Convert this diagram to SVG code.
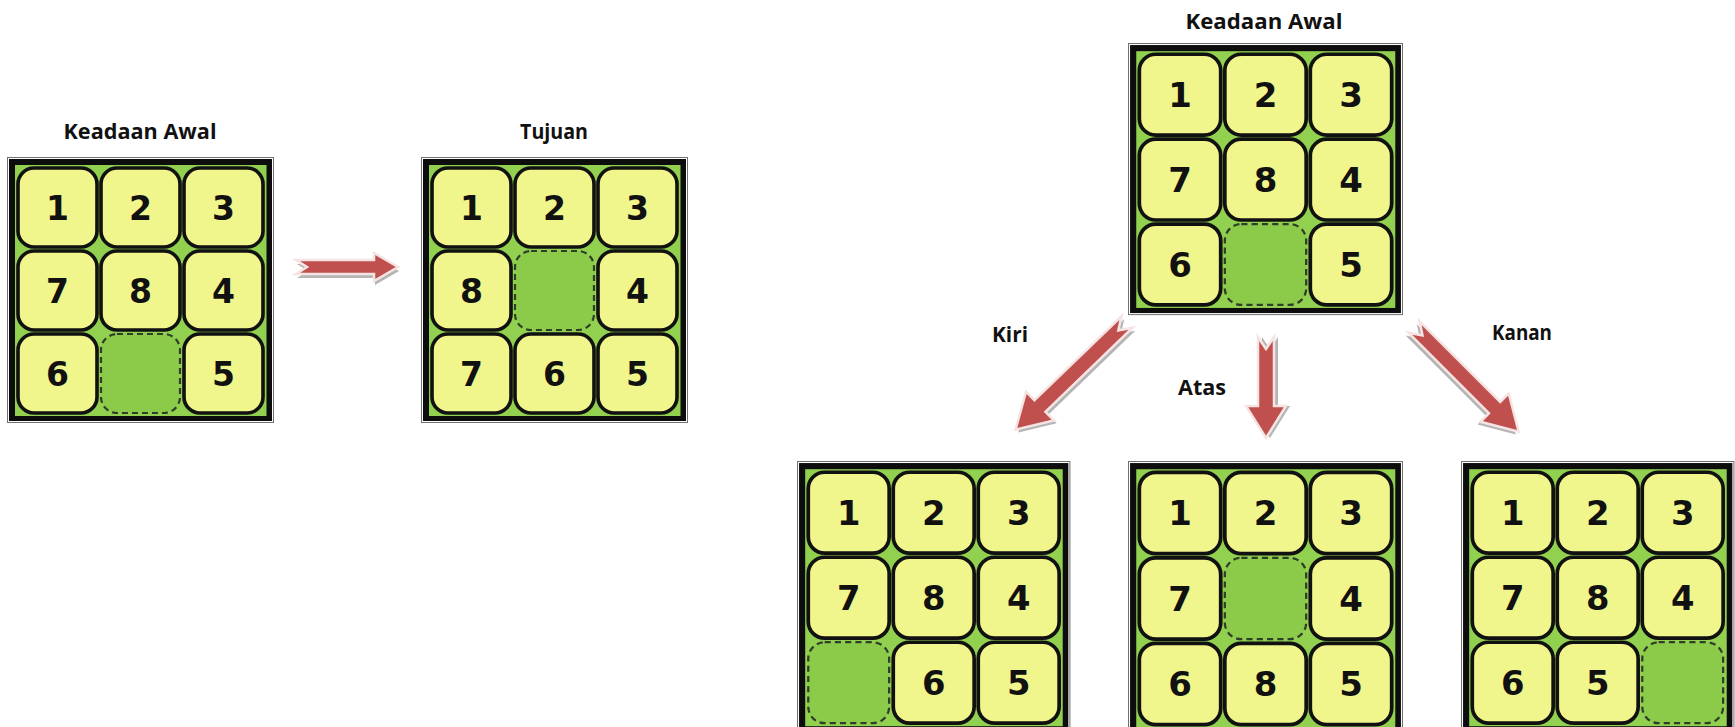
<svg xmlns="http://www.w3.org/2000/svg" xmlns:xlink="http://www.w3.org/1999/xlink" width="1735" height="727" viewBox="0 0 1735 727">
<style>
.fo{fill:#fff;stroke:#707070;stroke-width:1}
.fb{fill:#0d0d0d}
.fg{fill:#92d050}
.tile{fill:#f0f58c;stroke:#111;stroke-width:3.6}
.empty{fill:#8ccb4a;stroke:#2f3d2a;stroke-width:2.2;stroke-dasharray:6 4}
.num{font-family:"DejaVu Sans",sans-serif;font-weight:700;font-size:33px;fill:#111;text-anchor:middle}
.title{font-family:"Open Sans",sans-serif;font-weight:700;font-size:21px;fill:#111;text-anchor:middle}
.arrow{fill:#c0504d;stroke:#f6e4e4;stroke-width:2.5;stroke-linejoin:miter}
.shadow{fill:#9b9b9b;opacity:0.75}
</style>
<defs>
<g id="frame">
<rect class="fo" x="0.5" y="0.5" width="266" height="265"/>
<rect class="fb" x="2" y="2" width="263" height="262"/>
<rect class="fg" x="8" y="8" width="251.5" height="251"/>
</g>
<rect id="t" width="79" height="79" rx="16" ry="16"/>
</defs>

<!-- Board 1: Keadaan Awal (left) -->
<g id="board-awal-left" transform="translate(7,157)">
<use xlink:href="#frame"/>
<use xlink:href="#t" class="tile" x="11" y="11"/><use xlink:href="#t" class="tile" x="94" y="11"/><use xlink:href="#t" class="tile" x="177" y="11"/>
<use xlink:href="#t" class="tile" x="11" y="94"/><use xlink:href="#t" class="tile" x="94" y="94"/><use xlink:href="#t" class="tile" x="177" y="94"/>
<use xlink:href="#t" class="tile" x="11" y="177"/><use xlink:href="#t" class="empty" x="94" y="177"/><use xlink:href="#t" class="tile" x="177" y="177"/>
<text class="num" x="50.5" y="62.5">1</text><text class="num" x="133.5" y="62.5">2</text><text class="num" x="216.5" y="62.5">3</text>
<text class="num" x="50.5" y="145.5">7</text><text class="num" x="133.5" y="145.5">8</text><text class="num" x="216.5" y="145.5">4</text>
<text class="num" x="50.5" y="228.5">6</text><text class="num" x="216.5" y="228.5">5</text>
</g>
<text id="title-awal-left" class="title" x="140" y="139" textLength="153" lengthAdjust="spacingAndGlyphs">Keadaan Awal</text>

<!-- Board 2: Tujuan -->
<g id="board-tujuan" transform="translate(421,157)">
<use xlink:href="#frame"/>
<use xlink:href="#t" class="tile" x="11" y="11"/><use xlink:href="#t" class="tile" x="94" y="11"/><use xlink:href="#t" class="tile" x="177" y="11"/>
<use xlink:href="#t" class="tile" x="11" y="94"/><use xlink:href="#t" class="empty" x="94" y="94"/><use xlink:href="#t" class="tile" x="177" y="94"/>
<use xlink:href="#t" class="tile" x="11" y="177"/><use xlink:href="#t" class="tile" x="94" y="177"/><use xlink:href="#t" class="tile" x="177" y="177"/>
<text class="num" x="50.5" y="62.5">1</text><text class="num" x="133.5" y="62.5">2</text><text class="num" x="216.5" y="62.5">3</text>
<text class="num" x="50.5" y="145.5">8</text><text class="num" x="216.5" y="145.5">4</text>
<text class="num" x="50.5" y="228.5">7</text><text class="num" x="133.5" y="228.5">6</text><text class="num" x="216.5" y="228.5">5</text>
</g>
<text id="title-tujuan" class="title" x="554" y="139" textLength="68" lengthAdjust="spacingAndGlyphs">Tujuan</text>

<!-- Board 3: Keadaan Awal (top) -->
<g id="board-awal-top" transform="translate(1128,43) scale(1.03,1.023)">
<use xlink:href="#frame"/>
<use xlink:href="#t" class="tile" x="11" y="11"/><use xlink:href="#t" class="tile" x="94" y="11"/><use xlink:href="#t" class="tile" x="177" y="11"/>
<use xlink:href="#t" class="tile" x="11" y="94"/><use xlink:href="#t" class="tile" x="94" y="94"/><use xlink:href="#t" class="tile" x="177" y="94"/>
<use xlink:href="#t" class="tile" x="11" y="177"/><use xlink:href="#t" class="empty" x="94" y="177"/><use xlink:href="#t" class="tile" x="177" y="177"/>
<text class="num" x="50.5" y="62.5">1</text><text class="num" x="133.5" y="62.5">2</text><text class="num" x="216.5" y="62.5">3</text>
<text class="num" x="50.5" y="145.5">7</text><text class="num" x="133.5" y="145.5">8</text><text class="num" x="216.5" y="145.5">4</text>
<text class="num" x="50.5" y="228.5">6</text><text class="num" x="216.5" y="228.5">5</text>
</g>
<text id="title-awal-top" class="title" x="1264" y="29" textLength="157" lengthAdjust="spacingAndGlyphs">Keadaan Awal</text>

<!-- Board 4: Kiri result -->
<g id="board-kiri" transform="translate(797,461) scale(1.024)">
<use xlink:href="#frame"/>
<use xlink:href="#t" class="tile" x="11" y="11"/><use xlink:href="#t" class="tile" x="94" y="11"/><use xlink:href="#t" class="tile" x="177" y="11"/>
<use xlink:href="#t" class="tile" x="11" y="94"/><use xlink:href="#t" class="tile" x="94" y="94"/><use xlink:href="#t" class="tile" x="177" y="94"/>
<use xlink:href="#t" class="empty" x="11" y="177"/><use xlink:href="#t" class="tile" x="94" y="177"/><use xlink:href="#t" class="tile" x="177" y="177"/>
<text class="num" x="50.5" y="62.5">1</text><text class="num" x="133.5" y="62.5">2</text><text class="num" x="216.5" y="62.5">3</text>
<text class="num" x="50.5" y="145.5">7</text><text class="num" x="133.5" y="145.5">8</text><text class="num" x="216.5" y="145.5">4</text>
<text class="num" x="133.5" y="228.5">6</text><text class="num" x="216.5" y="228.5">5</text>
</g>

<!-- Board 5: Atas result -->
<g id="board-atas" transform="translate(1128,461) scale(1.03)">
<use xlink:href="#frame"/>
<use xlink:href="#t" class="tile" x="11" y="11"/><use xlink:href="#t" class="tile" x="94" y="11"/><use xlink:href="#t" class="tile" x="177" y="11"/>
<use xlink:href="#t" class="tile" x="11" y="94"/><use xlink:href="#t" class="empty" x="94" y="94"/><use xlink:href="#t" class="tile" x="177" y="94"/>
<use xlink:href="#t" class="tile" x="11" y="177"/><use xlink:href="#t" class="tile" x="94" y="177"/><use xlink:href="#t" class="tile" x="177" y="177"/>
<text class="num" x="50.5" y="62.5">1</text><text class="num" x="133.5" y="62.5">2</text><text class="num" x="216.5" y="62.5">3</text>
<text class="num" x="50.5" y="145.5">7</text><text class="num" x="216.5" y="145.5">4</text>
<text class="num" x="50.5" y="228.5">6</text><text class="num" x="133.5" y="228.5">8</text><text class="num" x="216.5" y="228.5">5</text>
</g>

<!-- Board 6: Kanan result -->
<g id="board-kanan" transform="translate(1461,461) scale(1.024)">
<use xlink:href="#frame"/>
<use xlink:href="#t" class="tile" x="11" y="11"/><use xlink:href="#t" class="tile" x="94" y="11"/><use xlink:href="#t" class="tile" x="177" y="11"/>
<use xlink:href="#t" class="tile" x="11" y="94"/><use xlink:href="#t" class="tile" x="94" y="94"/><use xlink:href="#t" class="tile" x="177" y="94"/>
<use xlink:href="#t" class="tile" x="11" y="177"/><use xlink:href="#t" class="tile" x="94" y="177"/><use xlink:href="#t" class="empty" x="177" y="177"/>
<text class="num" x="50.5" y="62.5">1</text><text class="num" x="133.5" y="62.5">2</text><text class="num" x="216.5" y="62.5">3</text>
<text class="num" x="50.5" y="145.5">7</text><text class="num" x="133.5" y="145.5">8</text><text class="num" x="216.5" y="145.5">4</text>
<text class="num" x="50.5" y="228.5">6</text><text class="num" x="133.5" y="228.5">5</text>
</g>

<!-- Connectors -->
<g id="connectors">
<g id="arrow-goal" transform="translate(296,267)">
<path class="shadow" transform="translate(1,4)" d="M0,-7 H78 V-14 L102,0 L78,14 V7 H0 L11,0 Z"/>
<path class="arrow" d="M0,-7 H78 V-14 L102,0 L78,14 V7 H0 L11,0 Z"/>
</g>
<g id="arrow-kiri" transform="translate(1127,322) rotate(136)">
<path class="shadow" transform="translate(0,-4)" d="M0,-8 H121 V-20 L155,0 L121,20 V8 H0 L12,0 Z"/>
<path class="arrow" d="M0,-8 H121 V-20 L155,0 L121,20 V8 H0 L12,0 Z"/>
</g>
<g id="arrow-atas" transform="translate(1266,337) rotate(90)">
<path class="shadow" transform="translate(0,-4)" d="M0,-8 H69 V-20 L101,0 L69,20 V8 H0 L12,0 Z"/>
<path class="arrow" d="M0,-8 H69 V-20 L101,0 L69,20 V8 H0 L12,0 Z"/>
</g>
<g id="arrow-kanan" transform="translate(1414,327) rotate(45)">
<path class="shadow" transform="translate(0,4)" d="M0,-8 H114 V-20 L148,0 L114,20 V8 H0 L12,0 Z"/>
<path class="arrow" d="M0,-8 H114 V-20 L148,0 L114,20 V8 H0 L12,0 Z"/>
</g>
<text class="title" x="1010" y="342" textLength="36" lengthAdjust="spacingAndGlyphs">Kiri</text>
<text class="title" x="1202" y="395" textLength="48" lengthAdjust="spacingAndGlyphs">Atas</text>
<text class="title" x="1522" y="340" textLength="60" lengthAdjust="spacingAndGlyphs">Kanan</text>
</g>
</svg>
